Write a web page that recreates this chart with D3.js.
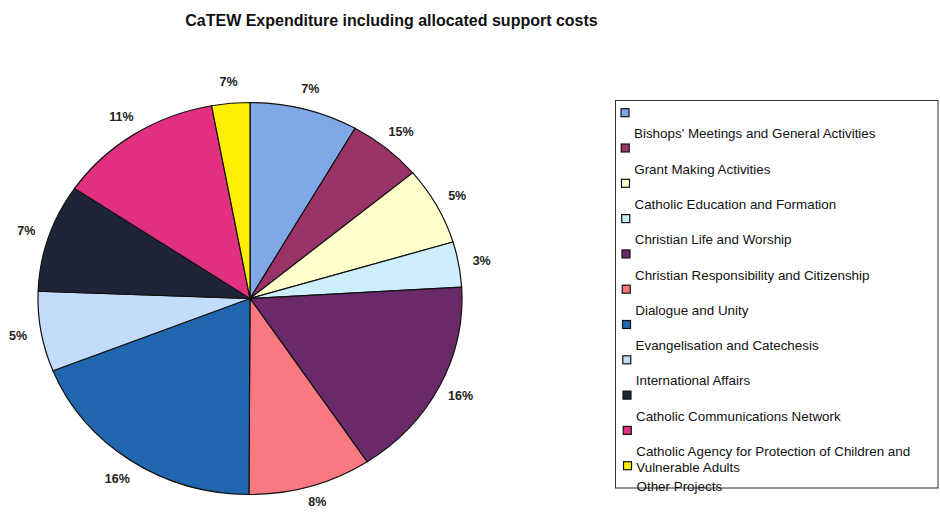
<!DOCTYPE html>
<html>
<head>
<meta charset="utf-8">
<script src="https://cdn.jsdelivr.net/npm/d3@7"></script>
<style>
  html, body { margin: 0; padding: 0; background: #fff; }
  svg { display: block; font-family: Arial, "Liberation Sans", sans-serif; }
</style>
</head>
<body>
<svg id="chart" width="940" height="512"></svg>
<script>
// ---- data ----
const title = "CaTEW Expenditure including allocated support costs";
const sliceValues = [8.25, 5.67, 6.42, 3.72, 16.6, 9.4, 18.9, 6.6, 8.9, 12.6, 2.9];
const sliceLabels = ["7%", "15%", "5%", "3%", "16%", "8%", "16%", "5%", "7%", "11%", "7%"];
const sliceColors = ["#7fa8e6", "#9a3468", "#ffffcc", "#cdeefc", "#6a2a6a", "#f87a80",
                     "#2167b0", "#c4dcfc", "#1e2538", "#e0307f", "#ffef00"];
const legendNames = [
  ["Bishops' Meetings and General Activities"],
  ["Grant Making Activities"],
  ["Catholic Education and Formation"],
  ["Christian Life and Worship"],
  ["Christian Responsibility and Citizenship"],
  ["Dialogue and Unity"],
  ["Evangelisation and Catechesis"],
  ["International Affairs"],
  ["Catholic Communications Network"],
  ["Catholic Agency for Protection of Children and", "Vulnerable Adults"],
  ["Other Projects"]
];

// ---- layout ----
const svg = d3.select("#chart");
const cx = 250, cy = 298.5, rx = 212, ry = 196;

svg.append("text")
  .attr("x", 391.5).attr("y", 26)
  .attr("text-anchor", "middle")
  .attr("font-size", 16).attr("font-weight", "bold")
  .attr("fill", "#111")
  .text(title);

const pie = d3.pie().sort(null).value(d => d)(sliceValues);
const arc = d3.arc().innerRadius(0).outerRadius(rx);

const g = svg.append("g")
  .attr("transform", `translate(${cx},${cy}) scale(1,${ry / rx})`);

g.selectAll("path")
  .data(pie)
  .join("path")
  .attr("d", arc)
  .attr("fill", (d, i) => sliceColors[i])
  .attr("stroke", "#111")
  .attr("stroke-width", 1.2)
  .attr("vector-effect", "non-scaling-stroke");

const labelR = 1.11;
svg.append("g").selectAll("text")
  .data(pie)
  .join("text")
  .attr("x", d => cx + Math.sin((d.startAngle + d.endAngle) / 2) * rx * labelR)
  .attr("y", d => Math.min(502, cy - Math.cos((d.startAngle + d.endAngle) / 2) * ry * labelR))
  .attr("dy", "0.35em")
  .attr("text-anchor", "middle")
  .attr("font-size", 12.5).attr("font-weight", "bold")
  .attr("fill", "#222")
  .text((d, i) => sliceLabels[i]);

// ---- legend ----
const lg = svg.append("g");
lg.append("rect")
  .attr("x", 615.5).attr("y", 100.5)
  .attr("width", 322.5).attr("height", 387.5)
  .attr("fill", "#fff").attr("stroke", "#333").attr("stroke-width", 1);

const legendY = d3.scaleLinear().domain([0, 10]).range([112.7, 465.7]);

lg.selectAll("rect.sw")
  .data(sliceColors)
  .join("rect")
  .attr("class", "sw")
  .attr("x", (d, i) => 621 + i * 0.25)
  .attr("y", (d, i) => legendY(i) - 4)
  .attr("width", 8).attr("height", 8)
  .attr("fill", d => d)
  .attr("stroke", "#111").attr("stroke-width", 1.2);

legendNames.forEach((lines, i) => {
  const t = lg.append("text")
    .attr("x", 634 + i * 0.25)
    .attr("y", legendY(i) + 21)
    .attr("font-size", 13.4)
    .attr("fill", "#111");
  lines.forEach((ln, j) => {
    t.append("tspan")
      .attr("x", 634 + i * 0.25)
      .attr("dy", j === 0 ? "0.35em" : "1.2em")
      .text(ln);
  });
});
</script>
</body>
</html>
